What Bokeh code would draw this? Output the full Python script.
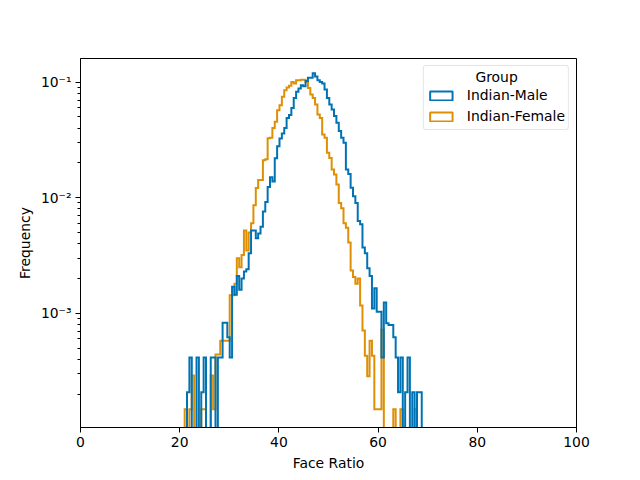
import numpy as np
from bokeh.plotting import figure
from bokeh.models import Range1d, FixedTicker, CustomJSTickFormatter, Legend, LegendItem
from bokeh.embed import file_html
from bokeh.resources import INLINE

# ---- data ----
face_ratio_min = 21.0
face_ratio_max = 68.8
n_bins = 100

groups = ["Indian-Male", "Indian-Female"]

indian_male = [
    0, 2.07e-4, 4.15e-4, 0, 0, 4.15e-4, 0, 2.07e-4, 4.15e-4, 0,
    0, 4.15e-4, 4.15e-4, 0, 4.15e-4, 4.15e-4, 8.3e-4, 8.3e-4, 6.2e-4, 4.15e-4,
    1.7e-3, 1.45e-3, 2.1e-3, 1.6e-3, 2.0e-3, 2.3e-3, 2.4e-3, 3.3e-3, 5.2e-3, 5.2e-3,
    4.46e-3, 4.9e-3, 5.6e-3, 7.6e-3, 9.2e-3, 0.0124, 0.015, 0.0138, 0.0219, 0.0279,
    0.0325, 0.036, 0.040, 0.0488, 0.052, 0.0596, 0.073, 0.0825, 0.088, 0.094,
    0.092, 0.102, 0.109, 0.109, 0.119, 0.112, 0.104, 0.100, 0.097, 0.0865,
    0.073, 0.064, 0.058, 0.0508, 0.0445, 0.0377, 0.033, 0.0298, 0.0175, 0.016,
    0.0122, 0.0103, 0.009, 6.3e-3, 5.9e-3, 3.7e-3, 3.3e-3, 2.45e-3, 2.1e-3, 1.1e-3,
    1.65e-3, 1.03e-3, 1.03e-3, 4.15e-4, 1.24e-3, 8.2e-4, 7.9e-4, 7.9e-4, 6.2e-4, 4.15e-4,
    2.07e-4, 4.15e-4, 0, 2.07e-4, 4.15e-4, 0, 2.07e-4, 0, 2.07e-4, 2.07e-4,
]

indian_female = [
    1.48e-4, 0, 1.48e-4, 2.9e-4, 0, 0, 0, 1.48e-4, 1.48e-4, 0,
    0, 2.9e-4, 1.48e-4, 4.4e-4, 4.4e-4, 5.8e-4, 5.8e-4, 5.8e-4, 5.8e-4, 1.43e-3,
    1.43e-3, 1.8e-3, 3.0e-3, 2.5e-3, 3.2e-3, 5.2e-3, 3.5e-3, 5.0e-3, 6.0e-3, 8.6e-3,
    0.0121, 0.0142, 0.0142, 0.0211, 0.0215, 0.0327, 0.033, 0.040, 0.0453, 0.057,
    0.063, 0.0746, 0.085, 0.090, 0.093, 0.100, 0.097, 0.104, 0.104, 0.105,
    0.105, 0.100, 0.089, 0.078, 0.073, 0.064, 0.0525, 0.049, 0.0352, 0.033,
    0.0245, 0.022, 0.0175, 0.0159, 0.013, 9.0e-3, 8.1e-3, 6.0e-3, 5.5e-3, 4.1e-3,
    2.35e-3, 2.06e-3, 1.8e-3, 2.0e-3, 1.17e-3, 7.1e-4, 4.3e-4, 2.85e-4, 5.8e-4, 4.3e-4,
    1.48e-4, 1.48e-4, 1.48e-4, 7.2e-4, 0, 0, 0, 0, 1.48e-4, 0,
    0, 1.48e-4, 0, 0, 0, 0, 0, 1.48e-4, 0, 0,
]

x_ticks = [0, 20, 40, 60, 80, 100]
y_ticks = [1e-3, 1e-2, 1e-1]

# ---- styling ----
colors = {"Indian-Male": "#0173B2", "Indian-Female": "#DE8F05"}
FONT = "DejaVu Sans"
FS = "13.9px"

edges = np.linspace(face_ratio_min, face_ratio_max, n_bins + 1)
floor = 1e-9  # zero-count bins drop below the visible log range


def step_path(values):
    v = np.array(values, dtype=float)
    v[v <= 0] = floor
    xs = np.repeat(edges, 2)
    ys = np.concatenate([[floor], np.repeat(v, 2), [floor]])
    return xs, ys


p = figure(
    frame_width=496, frame_height=369,
    x_range=Range1d(0, 100), y_range=Range1d(1.028e-4, 0.160),
    y_axis_type="log",
    output_backend="svg", toolbar_location=None,
    min_border_left=80, min_border_right=56, min_border_top=58, min_border_bottom=45,
    background_fill_color="white", border_fill_color="white",
)

series = {"Indian-Male": indian_male, "Indian-Female": indian_female}
# draw female first so male lies on top
for g in ["Indian-Female", "Indian-Male"]:
    xs, ys = step_path(series[g])
    p.line(xs, ys, line_color=colors[g], line_width=2, line_join="miter")

# legend-only swatches (outlined rectangles); NaN rows draw nothing on the plot
items = []
for g in groups:
    r = p.quad(left=[np.nan], right=[np.nan], top=[np.nan], bottom=[np.nan],
               fill_alpha=0, line_color=colors[g], line_width=2)
    items.append(LegendItem(label=g, renderers=[r]))

legend = Legend(
    items=items, location="top_right", margin=7, padding=3, spacing=1,
    glyph_width=28, glyph_height=11, label_standoff=12, label_height=20,
    border_line_color="#cccccc", border_line_width=1,
    background_fill_color="white", background_fill_alpha=0.8,
    label_text_font=FONT, label_text_font_size=FS, label_text_color="black",
    title="\u00a0" * 11 + "Group", title_text_font=FONT, title_text_font_size=FS,
    title_text_font_style="normal", title_text_color="black", title_standoff=0,
)
try:
    legend.border_radius = 3
except Exception:
    pass
p.add_layout(legend)

# axes
p.xaxis.ticker = FixedTicker(ticks=x_ticks)
minor = [k * 10.0 ** d for d in range(-4, 0) for k in range(2, 10)]
p.yaxis.ticker = FixedTicker(ticks=y_ticks, minor_ticks=minor)
p.yaxis.formatter = CustomJSTickFormatter(code="""
const e = Math.round(Math.log10(tick));
const m = {"-": "\u207b", "0": "\u2070", "1": "\u00b9", "2": "\u00b2", "3": "\u00b3",
           "4": "\u2074", "5": "\u2075", "6": "\u2076", "7": "\u2077", "8": "\u2078", "9": "\u2079"};
let s = "";
for (const c of String(e)) { s += m[c]; }
return "10" + s;
""")

p.xaxis.axis_label = "Face Ratio"
p.yaxis.axis_label = "Frequency"
for ax in (p.xaxis[0], p.yaxis[0]):
    ax.major_label_text_font = FONT
    ax.major_label_text_font_size = FS
    ax.major_label_text_color = "black"
    ax.axis_label_text_font = FONT
    ax.axis_label_text_font_size = FS
    ax.axis_label_text_font_style = "normal"
    ax.axis_label_text_color = "black"
    ax.axis_line_color = "black"
    ax.axis_line_width = 1
    ax.major_tick_line_color = "black"
    ax.major_tick_out = 5
    ax.major_tick_in = 0
    ax.minor_tick_line_color = "black"
    ax.minor_tick_out = 3
    ax.minor_tick_in = 0
    ax.major_label_standoff = 4
    ax.axis_label_standoff = 5
p.xaxis.minor_tick_line_color = None

p.grid.visible = False
p.outline_line_color = "black"
p.outline_line_width = 1
p.outline_line_alpha = 1

open("out.html", "w").write(file_html(p, INLINE))
